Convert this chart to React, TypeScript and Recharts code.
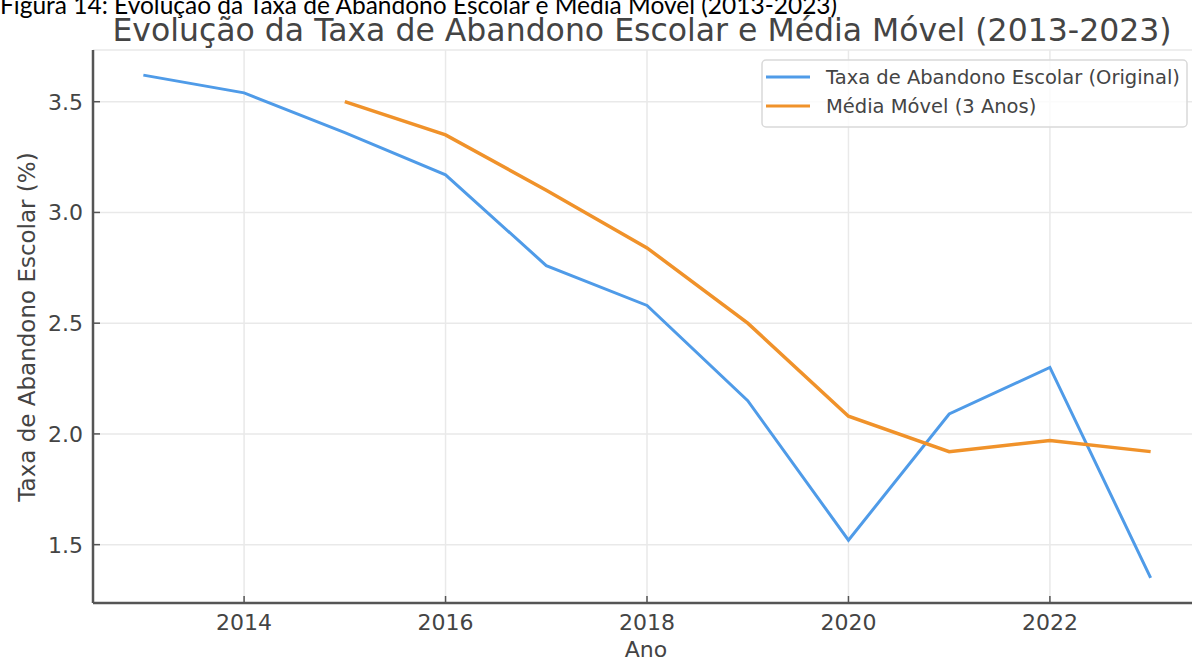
import { LineChart, Line, XAxis, YAxis, CartesianGrid } from 'recharts'

const years = [2013, 2014, 2015, 2016, 2017, 2018, 2019, 2020, 2021, 2022, 2023]
const original = [3.62, 3.54, 3.36, 3.17, 2.76, 2.58, 2.15, 1.52, 2.09, 2.3, 1.35]
const movingAvg = [null, null, 3.5, 3.35, 3.1, 2.84, 2.5, 2.08, 1.92, 1.97, 1.92]
const xTicks = [2014, 2016, 2018, 2020, 2022]
const yTicks = [1.5, 2.0, 2.5, 3.0, 3.5]

const seriesNames = ['Taxa de Abandono Escolar (Original)', 'Média Móvel (3 Anos)']
const seriesColors = ['#4f9be8', '#f0922a']

const caption = 'Figura 14: Evolução da Taxa de Abandono Escolar e Média Móvel (2013-2023)'
const title = 'Evolução da Taxa de Abandono Escolar e Média Móvel (2013-2023)'
const xLabel = 'Ano'
const yLabel = 'Taxa de Abandono Escolar (%)'

const data = years.map((year, i) => ({ year, original: original[i], media: movingAvg[i] }))

const FONT = "'DejaVu Sans', sans-serif"
const TEXT = '#444'
const SPINE = '#555'
const TICK_MARGIN = 10

function XTick({ x, y, payload }: any) {
  return (
    <g>
      <line x1={x} x2={x} y1={y - TICK_MARGIN} y2={y - TICK_MARGIN - 7} stroke={SPINE} strokeWidth={1.5} />
      <text x={x} y={y + 17} textAnchor="middle" fill={TEXT} fontSize={22} fontFamily={FONT}>
        {payload.value}
      </text>
    </g>
  )
}

function YTick({ x, y, payload }: any) {
  return (
    <g>
      <line x1={x + TICK_MARGIN} x2={x + TICK_MARGIN + 7} y1={y} y2={y} stroke={SPINE} strokeWidth={1.5} />
      <text x={x} y={y + 8} textAnchor="end" fill={TEXT} fontSize={22} fontFamily={FONT}>
        {Number(payload.value).toFixed(1)}
      </text>
    </g>
  )
}

export default function App() {
  return (
    <div style={{ position: 'absolute', left: 0, top: 0, width: 1192, height: 662, overflow: 'hidden', background: '#fff' }}>
      <LineChart width={1210} height={662} data={data} margin={{ top: 50, right: 9, bottom: 0, left: 23 }}>
        <CartesianGrid stroke="#e9e9e9" strokeWidth={1.5} />
        <XAxis
          dataKey="year"
          type="number"
          domain={[2012.5, 2023.5]}
          ticks={xTicks}
          allowDataOverflow
          height={59}
          tickSize={0}
          tickMargin={TICK_MARGIN}
          tick={<XTick />}
          axisLine={{ stroke: SPINE, strokeWidth: 2.5 }}
          tickLine={false}
        />
        <YAxis
          type="number"
          domain={[1.2365, 3.7335]}
          ticks={yTicks}
          allowDataOverflow
          width={70}
          tickSize={0}
          tickMargin={TICK_MARGIN}
          tick={<YTick />}
          axisLine={{ stroke: SPINE, strokeWidth: 2.5 }}
          tickLine={false}
        />
        <Line type="linear" dataKey="original" name={seriesNames[0]} stroke={seriesColors[0]} strokeWidth={3} dot={false} isAnimationActive={false} />
        <Line type="linear" dataKey="media" name={seriesNames[1]} stroke={seriesColors[1]} strokeWidth={3.5} dot={false} connectNulls={false} isAnimationActive={false} />
      </LineChart>
      <svg width={1192} height={662} style={{ position: 'absolute', left: 0, top: 0, pointerEvents: 'none' }}>
        <text x={0} y={14} fontSize={24.5} fontFamily="Lato, 'Open Sans', sans-serif" fill="#000">
          {caption}
        </text>
        <text x={642} y={41} textAnchor="middle" fontSize={31.5} fontFamily={FONT} fill={TEXT}>
          {title}
        </text>
        <text x={646} y={657} textAnchor="middle" fontSize={22} fontFamily={FONT} fill={TEXT}>
          {xLabel}
        </text>
        <text transform="translate(35,327) rotate(-90)" textAnchor="middle" fontSize={23} fontFamily={FONT} fill={TEXT}>
          {yLabel}
        </text>
        <rect x={762} y={60} width={425} height={67} rx={4} fill="rgba(255,255,255,0.8)" stroke="#d9d9d9" strokeWidth={1.5} />
        {seriesNames.map((name, i) => (
          <g key={name}>
            <line x1={766} x2={810} y1={77 + i * 29} y2={77 + i * 29} stroke={seriesColors[i]} strokeWidth={3} />
            <text x={826} y={84 + i * 29} fontSize={19.5} fontFamily={FONT} fill={TEXT}>
              {name}
            </text>
          </g>
        ))}
      </svg>
    </div>
  )
}
